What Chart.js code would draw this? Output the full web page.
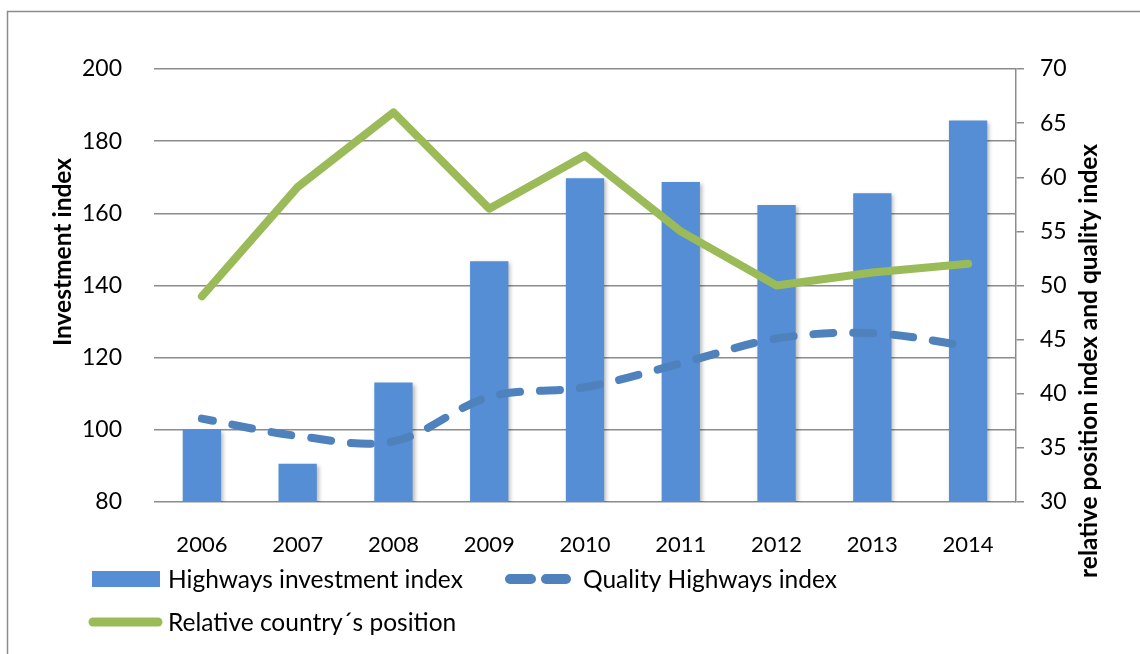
<!DOCTYPE html>
<html>
<head>
<meta charset="utf-8">
<script src="https://cdn.jsdelivr.net/npm/chart.js@4.4.0/dist/chart.umd.min.js"></script>
<style>
    html, body { margin: 0; padding: 0; background: #fff; }
    #wrap { width: 1140px; height: 654px; position: relative; }
</style>
</head>
<body>
<div id="wrap"><canvas id="chart"></canvas></div>
<script>
// Data
const years = ['2006', '2007', '2008', '2009', '2010', '2011', '2012', '2013', '2014'];
const investmentIndex = [100, 90.6, 113.1, 146.7, 169.7, 168.7, 162.3, 165.6, 185.7];
const qualityIndex = [37.7, 36.1, 35.6, 39.7, 40.6, 42.8, 45.1, 45.6, 44.4];
const countryPosition = [49, 59.1, 66, 57.1, 62, 55, 50, 51.2, 52];

const leftTicks = [80, 100, 120, 140, 160, 180, 200];
const rightTicks = [30, 35, 40, 45, 50, 55, 60, 65, 70];

const seriesNames = ['Highways investment index', 'Quality Highways index', 'Relative country\u00b4s position'];
const leftTitle = 'Investment index';
const rightTitle = 'relative position index and quality index';

const barColor = '#558ed5';
const dashColor = '#4f81bd';
const greenColor = '#9bbb59';
const gridColor = '#8c8c8c';

Chart.defaults.font.family = 'Lato';
Chart.defaults.color = '#000';

// Outer frame like the spreadsheet chart box
const framePlugin = {
    id: 'frame',
    beforeDraw(chart) {
        const ctx = chart.ctx;
        ctx.save();
        ctx.strokeStyle = gridColor;
        ctx.lineWidth = 1.5;
        ctx.beginPath();
        ctx.moveTo(7.5, chart.height);
        ctx.lineTo(7.5, 11.5);
        ctx.lineTo(chart.width, 11.5);
        ctx.stroke();
        ctx.restore();
    }
};

// Soft shadow under the bars
const shadowPlugin = {
    id: 'barShadow',
    beforeDatasetDraw(chart, args) {
        if (args.meta.type !== 'bar') return;
        const ctx = chart.ctx;
        ctx.save();
        ctx.shadowColor = 'rgba(0,0,0,0.28)';
        ctx.shadowBlur = 4;
        ctx.shadowOffsetX = 2;
        ctx.shadowOffsetY = 2;
    },
    afterDatasetDraw(chart, args) {
        if (args.meta.type !== 'bar') return;
        chart.ctx.restore();
    }
};

// Axis titles, both reading bottom to top
const titlePlugin = {
    id: 'axisTitles',
    afterDraw(chart) {
        const ctx = chart.ctx;
        ctx.save();
        ctx.fillStyle = '#000';
        ctx.font = 'bold 24.5px Lato';
        ctx.textAlign = 'center';
        ctx.textBaseline = 'middle';

        ctx.save();
        ctx.translate(63, 252);
        ctx.rotate(-Math.PI / 2);
        ctx.fillText(leftTitle, 0, 0);
        ctx.restore();

        ctx.save();
        ctx.translate(1089, 361);
        ctx.rotate(-Math.PI / 2);
        ctx.fillText(rightTitle, 0, 0);
        ctx.restore();

        ctx.restore();
    }
};

// Legend laid out in two rows, left aligned
const legendPlugin = {
    id: 'sheetLegend',
    afterDraw(chart) {
        const ctx = chart.ctx;
        const ds = chart.data.datasets;
        ctx.save();
        ctx.font = '24.5px Lato';
        ctx.fillStyle = '#000';
        ctx.textBaseline = 'middle';

        // bars
        ctx.fillStyle = ds[0].backgroundColor;
        ctx.fillRect(92, 571, 68, 16);
        ctx.fillStyle = '#000';
        ctx.fillText(ds[0].label, 168, 580);

        // dashed line
        ctx.strokeStyle = ds[1].borderColor;
        ctx.lineWidth = 10;
        ctx.lineCap = 'round';
        ctx.beginPath();
        ctx.moveTo(510, 579); ctx.lineTo(531, 579);
        ctx.moveTo(546, 579); ctx.lineTo(566, 579);
        ctx.stroke();
        ctx.fillText(ds[1].label, 583, 580);

        // green line
        ctx.strokeStyle = ds[2].borderColor;
        ctx.lineWidth = 9;
        ctx.beginPath();
        ctx.moveTo(93, 622); ctx.lineTo(158, 622);
        ctx.stroke();
        ctx.fillText(ds[2].label, 168, 623);

        ctx.restore();
    }
};

const ctx = document.getElementById('chart').getContext('2d');
const chart = new Chart(ctx, {
    type: 'bar',
    data: {
        labels: years,
        datasets: [
            {
                type: 'bar',
                label: seriesNames[0],
                data: investmentIndex,
                yAxisID: 'y',
                backgroundColor: barColor,
                borderWidth: 0,
                categoryPercentage: 1,
                barPercentage: 0.4,
                order: 3
            },
            {
                type: 'line',
                label: seriesNames[1],
                data: qualityIndex,
                yAxisID: 'y1',
                borderColor: dashColor,
                backgroundColor: dashColor,
                borderWidth: 8,
                borderDash: [20, 20],
                borderDashOffset: 9,
                borderCapStyle: 'round',
                tension: 0.35,
                pointRadius: 0,
                fill: false,
                order: 2
            },
            {
                type: 'line',
                label: seriesNames[2],
                data: countryPosition,
                yAxisID: 'y1',
                borderColor: greenColor,
                backgroundColor: greenColor,
                borderWidth: 8,
                borderCapStyle: 'round',
                borderJoinStyle: 'round',
                tension: 0,
                pointRadius: 0,
                fill: false,
                order: 1
            }
        ]
    },
    options: {
        responsive: true,
        maintainAspectRatio: false,
        animation: false,
        layout: {
            padding: { top: 69, left: 0, right: 0, bottom: 0 }
        },
        plugins: {
            legend: { display: false },
            tooltip: { enabled: false }
        },
        scales: {
            x: {
                grid: { display: false },
                border: { display: false },
                ticks: {
                    font: { size: 22 },
                    color: '#000',
                    padding: 22
                },
                afterFit: function(scale) {
                    scale.height = 152;
                }
            },
            y: {
                position: 'left',
                min: leftTicks[0],
                max: leftTicks[leftTicks.length - 1],
                ticks: {
                    stepSize: leftTicks[1] - leftTicks[0],
                    font: { size: 23 },
                    color: '#000',
                    padding: 32
                },
                grid: {
                    color: gridColor,
                    lineWidth: 1.5,
                    drawTicks: false
                },
                border: { display: false },
                afterFit: function(scale) {
                    scale.width = 154;
                }
            },
            y1: {
                position: 'right',
                min: rightTicks[0],
                max: rightTicks[rightTicks.length - 1],
                ticks: {
                    stepSize: rightTicks[1] - rightTicks[0],
                    font: { size: 23 },
                    color: '#000',
                    padding: 16
                },
                grid: {
                    drawOnChartArea: false,
                    drawTicks: true,
                    tickLength: 8,
                    color: gridColor,
                    lineWidth: 1.5
                },
                border: {
                    display: true,
                    color: gridColor,
                    width: 1.5
                },
                afterFit: function(scale) {
                    scale.width = 124;
                }
            }
        }
    },
    plugins: [framePlugin, shadowPlugin, titlePlugin, legendPlugin]
});
</script>
</body>
</html>
